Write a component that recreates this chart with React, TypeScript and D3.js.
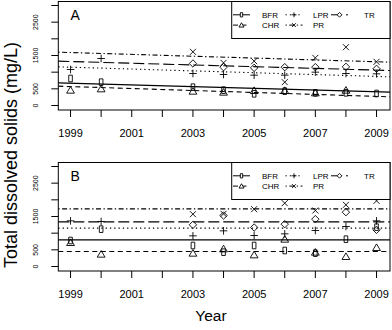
import React, { useRef, useEffect } from "react"
import * as d3 from "d3"

// years sampled
const years = [1999, 2000, 2003, 2004, 2005, 2006, 2007, 2008, 2009]

// panel A values (mg/L)
const bfrA = [810, 700, 550, 460, 350, 430, 380, 380, 360]
const chrA = [460, 500, 430, 400, 450, 450, 380, 460, null]
const lprA = [1080, 1410, 960, 930, 910, 910, 1000, 960, 950]
const prA = [null, null, 1610, 1280, 1330, 700, 1430, 1750, 1310]
const trA = [null, null, 1260, 1150, 1130, 1150, 1150, 1160, 1100]

// panel B values (mg/L)
const bfrB = [780, 1120, 630, 430, 630, 480, 400, 820, 1180]
const chrB = [720, 370, 400, 530, 350, 820, 430, 300, 570]
const lprB = [1370, 1350, 920, 1070, 930, 980, 1080, 1200, 1370]
const prB = [null, null, 1570, 1580, 1720, 1900, 1680, 1850, 1970]
const trB = [null, null, 1250, 1530, 1170, 1270, 1420, 1630, 1100]

// fitted lines: value at left edge, value at right edge
const fitA = { BFR: [680, 400], CHR: [580, 260], LPR: [1160, 860], PR: [1600, 1300], TR: [1330, 1050] }
const fitB = { BFR: [800, 800], CHR: [450, 450], LPR: [1150, 1150], PR: [1730, 1730], TR: [1340, 1340] }

const seriesNames = ["BFR", "CHR", "LPR", "PR", "TR"]
const yTicks = [0, 500, 1000, 1500, 2000, 2500, 3000]
const yTickLabels = [0, 500, 1500, 2500]
const xTickLabels = [1999, 2001, 2003, 2005, 2007, 2009]

const dashes = { BFR: null, CHR: "5,3.5", LPR: "1.3,3", PR: "1.3,2.5,5,2.5", TR: "11,4" }
const shapes = { BFR: "square", CHR: "triangle", LPR: "plus", PR: "times", TR: "diamond" }

// little R-like plotting symbols
function marker(shape, cx, cy, k = 1) {
  const p = d3.path()
  if (shape === "square") {
    p.rect(cx - 1.8 * k, cy - 3.3 * k, 3.6 * k, 6.6 * k)
  } else if (shape === "triangle") {
    p.moveTo(cx, cy - 3.6 * k)
    p.lineTo(cx + 3.9 * k, cy + 3 * k)
    p.lineTo(cx - 3.9 * k, cy + 3 * k)
    p.closePath()
  } else if (shape === "plus") {
    p.moveTo(cx - 3.8 * k, cy); p.lineTo(cx + 3.8 * k, cy)
    p.moveTo(cx, cy - 3.8 * k); p.lineTo(cx, cy + 3.8 * k)
  } else if (shape === "times") {
    p.moveTo(cx - 3 * k, cy - 3 * k); p.lineTo(cx + 3 * k, cy + 3 * k)
    p.moveTo(cx - 3 * k, cy + 3 * k); p.lineTo(cx + 3 * k, cy - 3 * k)
  } else {
    p.moveTo(cx, cy - 3.7 * k); p.lineTo(cx + 3.7 * k, cy)
    p.lineTo(cx, cy + 3.7 * k); p.lineTo(cx - 3.7 * k, cy)
    p.closePath()
  }
  return p.toString()
}

export default function App() {
  const svgRef = useRef(null)

  useEffect(() => {
    const svg = d3.select(svgRef.current)
    svg.selectAll("*").remove()

    const left = 58.3, right = 390
    const x = d3.scaleLinear().domain([1998.6, 2009.44]).range([left, right])

    const panels = [
      { top: 1.5, label: "A", data: [bfrA, chrA, lprA, prA, trA], fit: fitA },
      { top: 162.5, label: "B", data: [bfrB, chrB, lprB, prB, trB], fit: fitB },
    ]

    panels.forEach(panel => {
      const top = panel.top
      const bottom = top + 108.5
      const y = d3.scaleLinear().domain([0, 3000]).range([top + 104, top + 4])
      const g = svg.append("g")

      // fitted lines
      seriesNames.forEach(name => {
        const [v0, v1] = panel.fit[name]
        const fitLine = d3.line().x(d => x(d[0])).y(d => y(d[1]))
        g.append("path")
          .attr("d", fitLine([[x.domain()[0], v0], [x.domain()[1], v1]]))
          .attr("fill", "none")
          .attr("stroke", "#000")
          .attr("stroke-width", 1.1)
          .attr("stroke-dasharray", dashes[name])
      })

      // points
      seriesNames.forEach((name, si) => {
        const vals = panel.data[si]
        years.forEach((yr, i) => {
          if (vals[i] == null) return
          g.append("path")
            .attr("d", marker(shapes[name], x(yr), y(vals[i])))
            .attr("fill", "none")
            .attr("stroke", "#000")
            .attr("stroke-width", 0.9)
        })
      })

      // box
      g.append("rect")
        .attr("x", left).attr("y", top)
        .attr("width", right - left).attr("height", bottom - top)
        .attr("fill", "none").attr("stroke", "#000").attr("stroke-width", 1)

      // y axis
      yTicks.forEach(t => {
        g.append("line").attr("x1", left - 7).attr("x2", left)
          .attr("y1", y(t)).attr("y2", y(t)).attr("stroke", "#000")
      })
      yTickLabels.forEach(t => {
        g.append("text")
          .attr("transform", `translate(37.5,${y(t)}) rotate(-90)`)
          .attr("text-anchor", "middle")
          .attr("font-size", 7)
          .text(t)
      })

      // x axis
      d3.range(1999, 2010).forEach(t => {
        g.append("line").attr("x1", x(t)).attr("x2", x(t))
          .attr("y1", bottom).attr("y2", bottom + 7).attr("stroke", "#000")
      })
      xTickLabels.forEach(t => {
        g.append("text")
          .attr("x", x(t)).attr("y", bottom + 27)
          .attr("text-anchor", "middle")
          .attr("font-size", 11)
          .text(t)
      })

      // panel letter
      g.append("text").attr("x", 70.5).attr("y", top + 18.5)
        .attr("font-size", 14).text(panel.label)

      // legend
      const lg = g.append("g")
      lg.append("rect").attr("x", 231.7).attr("y", top)
        .attr("width", right - 231.7).attr("height", 37)
        .attr("fill", "#fff").attr("stroke", "#000")
      const cols = [241.5, 294, 339.5]
      const textX = [262, 313, 364]
      const place = { BFR: [0, 0], CHR: [0, 1], LPR: [1, 0], PR: [1, 1], TR: [2, 0] }
      seriesNames.forEach(name => {
        const [c, r] = place[name]
        const cy = top + 13.3 + r * 10.3
        lg.append("line").attr("x1", cols[c] - 8.5).attr("x2", cols[c] + 8.5)
          .attr("y1", cy).attr("y2", cy).attr("stroke", "#000")
          .attr("stroke-dasharray", dashes[name])
        lg.append("path").attr("d", marker(shapes[name], cols[c], cy, 0.65))
          .attr("fill", "#fff").attr("stroke", "#000").attr("stroke-width", 0.9)
        lg.append("text").attr("x", textX[c]).attr("y", cy + 3)
          .attr("font-size", 8).text(name)
      })
    })

    svg.append("text")
      .attr("x", 211).attr("y", 321)
      .attr("text-anchor", "middle")
      .attr("font-size", 15.5)
      .text("Year")

    svg.append("text")
      .attr("transform", "translate(17,155) rotate(-90)")
      .attr("text-anchor", "middle")
      .attr("font-size", 18)
      .text("Total dissolved solids (mg/L)")
  }, [])

  return (
    <svg
      ref={svgRef}
      width={392}
      height={330}
      style={{ position: "absolute", left: 0, top: 0, background: "#fff", fontFamily: "'Liberation Sans', Arial, sans-serif" }}
    />
  )
}
